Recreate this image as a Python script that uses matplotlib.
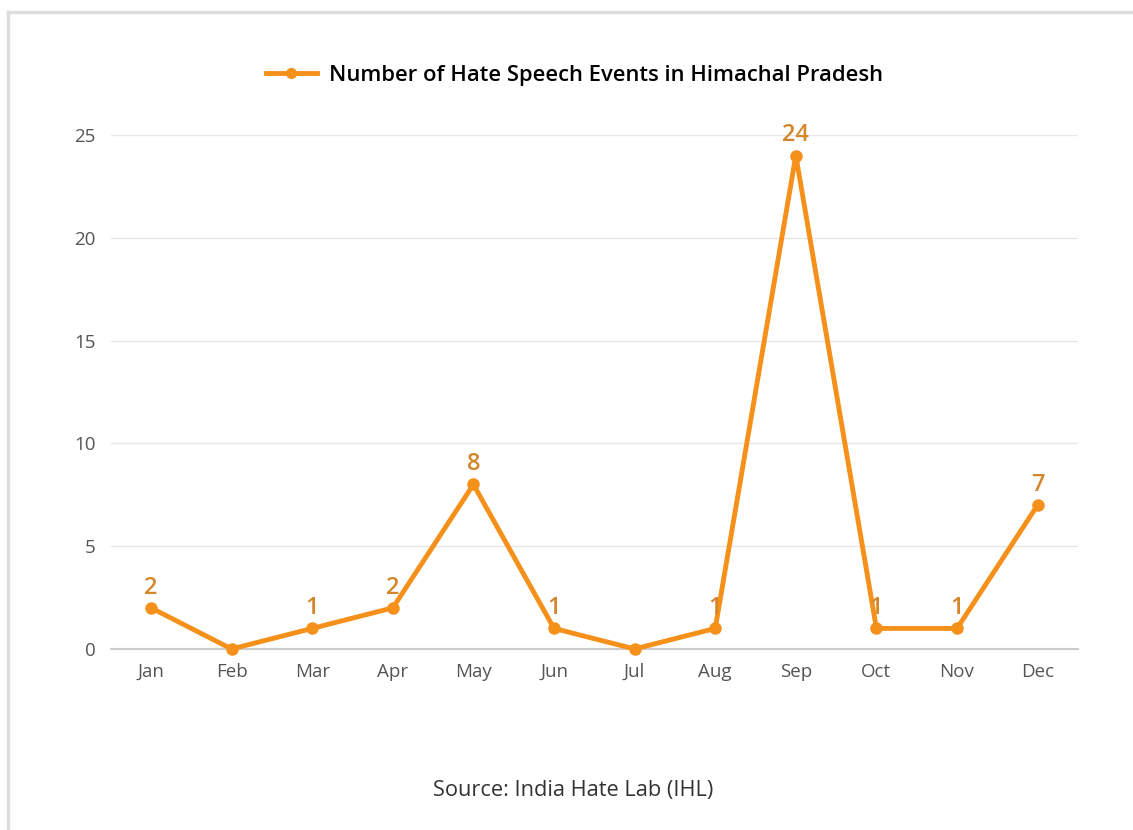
import matplotlib
matplotlib.use('Agg')
import matplotlib.pyplot as plt
from matplotlib.lines import Line2D

# Data --------------------------------------------
months = ['Jan', 'Feb', 'Mar', 'Apr', 'May', 'Jun', 'Jul', 'Aug', 'Sep', 'Oct', 'Nov', 'Dec']
events = [2, 0, 1, 2, 8, 1, 0, 1, 24, 1, 1, 7]
yticks = [0, 5, 10, 15, 20, 25]
seriesName = 'Number of Hate Speech Events in Himachal Pradesh'
sourceText = 'Source: India Hate Lab (IHL)'

lineColor = '#F5901A'
labelColor = '#D4862B'

plt.rcParams['font.family'] = ['Open Sans', 'DejaVu Sans']

fig = plt.figure(figsize=(11.33, 8.3), dpi=100)
ax = fig.add_axes([0.0977, 0.2181, 0.8537, 0.6193])

x = list(range(len(months)))
ax.plot(x, events, color=lineColor, linewidth=3.5, marker='o', markersize=8,
        solid_joinstyle='round', zorder=3, clip_on=False)

# data labels (skip zeros)
for xi, v in zip(x, events):
    if v > 0:
        ax.annotate(str(v), (xi, v), xytext=(0, 6), textcoords='offset points',
                    ha='center', va='bottom', fontsize=17, color=labelColor,
                    fontweight='semibold')

ax.set_xlim(-0.5, len(months) - 0.5)
ax.set_ylim(0, 25)
ax.set_xticks(x)
ax.set_xticklabels(months)
ax.set_yticks(yticks)
ax.grid(axis='y', color='#e6e6e6', linewidth=1)
ax.set_axisbelow(True)
for s in ['top', 'right', 'left']:
    ax.spines[s].set_visible(False)
ax.spines['bottom'].set_color('#cccccc')
ax.spines['bottom'].set_linewidth(1.5)
ax.tick_params(axis='both', length=0, labelsize=13.5, labelcolor='#555555')
ax.tick_params(axis='x', pad=10)
ax.tick_params(axis='y', pad=11)

# legend at top
handle = Line2D([0], [0], color=lineColor, linewidth=3.5, marker='o', markersize=7)
fig.legend([handle], [seriesName], loc='center', bbox_to_anchor=(0.507, 0.909),
           frameon=False, handlelength=2.3, handletextpad=0.55,
           prop={'weight': 'semibold', 'size': 15.8})

fig.text(0.506, 0.048, sourceText, ha='center', va='center', fontsize=15.7, color='#333333')

# light frame lines on top and left
fig.add_artist(Line2D([0.0075, 1.0], [0.9855, 0.9855], color='#dddddd', linewidth=2.5))
fig.add_artist(Line2D([0.0075, 0.0075], [0.0, 0.9855], color='#dddddd', linewidth=2.5))

fig.savefig('out.png', dpi=100)
